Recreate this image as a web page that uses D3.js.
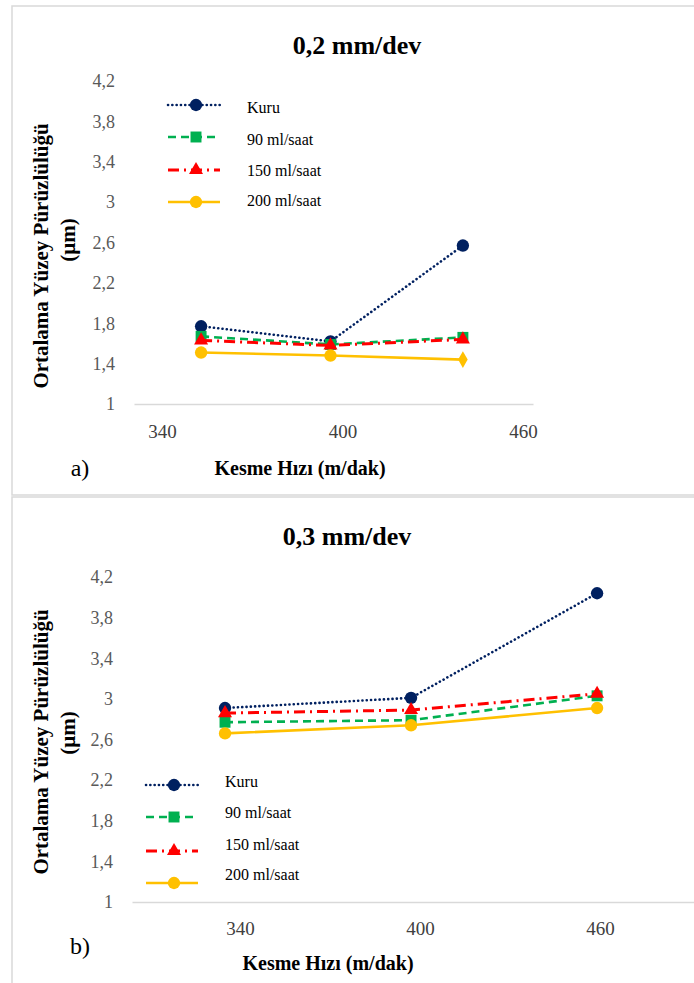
<!DOCTYPE html>
<html>
<head>
<meta charset="utf-8">
<script src="https://cdn.jsdelivr.net/npm/d3@7"></script>
<style>
    body { margin: 0; background: #fff; }
</style>
</head>
<body>
<div id="container"></div>
<script>
// data
var seriesNames = ["Kuru", "90 ml/saat", "150 ml/saat", "200 ml/saat"];
var yTicks = [1, 1.4, 1.8, 2.2, 2.6, 3, 3.4, 3.8, 4.2];
var xTicks = [340, 400, 460];

// a) 0,2 mm/dev
var speedsA = [353, 396, 440];
var kuruA = [1.77, 1.62, 2.57];
var ml90A = [1.67, 1.59, 1.66];
var ml150A = [1.63, 1.58, 1.64];
var ml200A = [1.51, 1.48, 1.44];

// b) 0,3 mm/dev
var speedsB = [335, 397, 459];
var kuruB = [2.91, 3.01, 4.04];
var ml90B = [2.77, 2.79, 3.03];
var ml150B = [2.86, 2.89, 3.05];
var ml200B = [2.66, 2.74, 2.91];

var colors = ["#002060", "#00B050", "#FF0000", "#FFC000"];
var dashes = ["0.1 4.2", "8 5", "11 5 2 5", null];
var widths = [2.6, 2.6, 3, 2.6];
var symbols = [d3.symbolCircle, d3.symbolSquare, d3.symbolTriangle, d3.symbolCircle];
var symSize = [120, 120, 85, 120];

var W = 694, H = 983;
var svg = d3.select("#container").append("svg")
    .attr("width", W)
    .attr("height", H);

// panel frames
svg.append("rect").attr("x", 12).attr("y", 6).attr("width", 700).attr("height", 489)
    .attr("fill", "none").attr("stroke", "#d9d9d9").attr("stroke-width", 1.5);
svg.append("rect").attr("x", 12).attr("y", 497).attr("width", 700).attr("height", 500)
    .attr("fill", "none").attr("stroke", "#d9d9d9").attr("stroke-width", 1.5);

var fmt = function(d) { return String(d).replace(".", ","); };

function drawPanel(p) {
    var g = svg.append("g");
    var x = d3.scaleLinear().domain(p.xDomain).range(p.xRange);
    var y = d3.scaleLinear().domain([1, 4.2]).range(p.yRange);

    // title
    g.append("text").attr("x", p.titleX).attr("y", p.titleY)
        .attr("text-anchor", "middle").attr("dominant-baseline", "middle")
        .attr("font-size", 26).attr("font-weight", "bold").text(p.title);

    // y axis labels
    var ya = g.append("g")
        .attr("transform", "translate(" + (p.xRange[0] - 16) + ",0)")
        .call(d3.axisLeft(y).tickValues(yTicks).tickSize(0).tickFormat(fmt));
    ya.select(".domain").remove();
    ya.selectAll("text").attr("font-size", 18)
        .attr("fill", "#595959").attr("dx", 0);

    // x axis
    var xa = g.append("g")
        .attr("transform", "translate(0," + p.yRange[0] + ")")
        .call(d3.axisBottom(x).tickValues(xTicks).tickSize(0).tickFormat(d3.format("d")));
    xa.select(".domain").attr("stroke", "#d9d9d9").attr("stroke-width", 1.5);
    xa.selectAll("text").attr("font-size", 19)
        .attr("fill", "#404040").attr("dy", 0).attr("y", p.xLabelDy)
        .attr("dominant-baseline", "middle");

    // axis titles
    g.append("text").attr("x", p.xTitleX).attr("y", p.xTitleY)
        .attr("text-anchor", "middle").attr("dominant-baseline", "middle")
        .attr("font-size", 20).attr("font-weight", "bold").text("Kesme Hızı (m/dak)");
    g.append("text")
        .attr("transform", "translate(43," + p.yTitleY + ") rotate(-90)")
        .attr("text-anchor", "middle").attr("dominant-baseline", "middle")
        .attr("font-size", 21).attr("font-weight", "bold").text("Ortalama Yüzey Pürüzlülüğü");
    g.append("text")
        .attr("transform", "translate(70," + p.umY + ") rotate(-90)")
        .attr("text-anchor", "middle").attr("dominant-baseline", "middle")
        .attr("font-size", 21).attr("font-weight", "bold").text("(µm)");
    g.append("text").attr("x", p.tagX).attr("y", p.tagY)
        .attr("text-anchor", "middle").attr("dominant-baseline", "middle")
        .attr("font-size", 24).text(p.tag);

    // series
    var line = d3.line()
        .x(function(d) { return x(d[0]); })
        .y(function(d) { return y(d[1]); });

    p.series.forEach(function(vals, i) {
        var pts = p.speeds.map(function(s, k) { return [s, vals[k]]; });
        g.append("path").datum(pts)
            .attr("d", line)
            .attr("fill", "none")
            .attr("stroke", colors[i])
            .attr("stroke-width", widths[i])
            .attr("stroke-linecap", i === 0 ? "round" : "butt")
            .attr("stroke-dasharray", dashes[i]);
        g.selectAll(null).data(pts).enter().append("path")
            .attr("transform", function(d) { return "translate(" + x(d[0]) + "," + y(d[1]) + ")"; })
            .attr("d", function(d, k) {
                var sym = symbols[i];
                if (p.diamondLast && i === 3 && k === 2) sym = d3.symbolDiamond;
                return d3.symbol().type(sym).size(sym === d3.symbolDiamond ? 80 : symSize[i])();
            })
            .attr("fill", colors[i]);
    });

    // legend
    var lg = g.append("g");
    seriesNames.forEach(function(name, i) {
        var ly = p.legendY[i];
        lg.append("line")
            .attr("x1", p.legendX).attr("x2", p.legendX + 52)
            .attr("y1", ly).attr("y2", ly)
            .attr("stroke", colors[i]).attr("stroke-width", widths[i])
            .attr("stroke-linecap", i === 0 ? "round" : "butt")
            .attr("stroke-dasharray", dashes[i]);
        lg.append("path")
            .attr("transform", "translate(" + (p.legendX + 28) + "," + ly + ")")
            .attr("d", d3.symbol().type(symbols[i]).size(symSize[i])())
            .attr("fill", colors[i]);
        lg.append("text")
            .attr("x", p.legendX + 79).attr("y", ly + p.legendTextDy[i])
            .attr("dominant-baseline", "middle")
            .attr("font-size", 16).attr("fill", "#000").text(name);
    });
}

drawPanel({
    title: "0,2 mm/dev", titleX: 357, titleY: 48,
    xDomain: [330.7, 463.3], xRange: [134, 533], yRange: [404, 81],
    xLabelDy: 30, xTitleX: 300, xTitleY: 470,
    yTitleY: 256, umY: 240, tag: "a)", tagX: 80, tagY: 470,
    speeds: speedsA, series: [kuruA, ml90A, ml150A, ml200A], diamondLast: true,
    legendX: 168, legendY: [105, 137, 170, 202], legendTextDy: [4, 4, 2, 0]
});

drawPanel({
    title: "0,3 mm/dev", titleX: 347, titleY: 539,
    xDomain: [304, 491.3], xRange: [132, 694], yRange: [902, 577],
    xLabelDy: 29, xTitleX: 328, xTitleY: 965,
    yTitleY: 742, umY: 733, tag: "b)", tagX: 80, tagY: 948,
    speeds: speedsB, series: [kuruB, ml90B, ml150B, ml200B], diamondLast: false,
    legendX: 146, legendY: [785, 817, 851, 883], legendTextDy: [-2, -3, -5, -7]
});

// Times-like serif everywhere, as in the original figure
svg.selectAll("text").style("font-family", "'Liberation Serif', 'Times New Roman', serif");
</script>
</body>
</html>
